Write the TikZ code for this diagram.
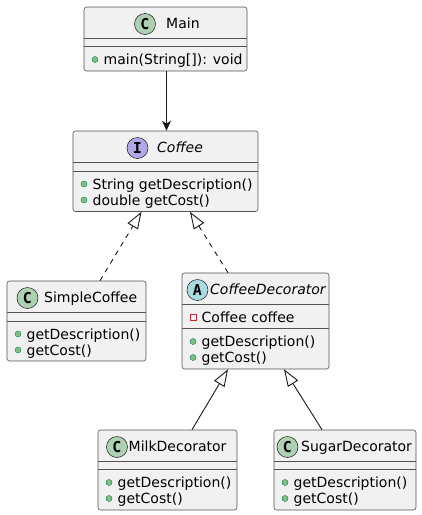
\documentclass[tikz,border=0pt]{standalone}
\usepackage{fontspec}
\setmainfont{DejaVu Sans}
\newfontfamily\iconfont{DejaVu Sans Mono}
\usetikzlibrary{arrows.meta,positioning}
\definecolor{boxfill}{HTML}{F1F1F1}
\definecolor{boxline}{HTML}{181818}
\definecolor{classicon}{HTML}{ADD1B2}
\definecolor{ifaceicon}{HTML}{B4A7E5}
\definecolor{abstricon}{HTML}{A9DCDF}
\definecolor{pubfill}{HTML}{84BE84}
\definecolor{publine}{HTML}{038048}
\definecolor{privline}{HTML}{C82930}

\begin{document}
\begin{tikzpicture}[x=1pt,y=-1pt,font=\fontsize{14}{16}\selectfont,
  umlbox/.style={draw=boxline!75,line width=0.6pt,fill=boxfill,rounded corners=2.5pt},
  sepline/.style={draw=boxline!75,line width=0.6pt},
  icon/.style={circle,draw=boxline,line width=0.5pt,minimum size=21pt,
    font=\iconfont\bfseries\fontsize{15}{15}\selectfont},
  pub/.style={circle,draw=publine,line width=0.4pt,fill=pubfill,minimum size=6pt},
  priv/.style={rectangle,draw=privline,line width=0.7pt,minimum size=6pt},
  member/.style={anchor=base west},
  uses/.style={draw=boxline,line width=0.9pt,-{Stealth[length=10pt,width=9pt,inset=3pt]}},
  realize/.style={draw=boxline,line width=0.9pt,dash pattern=on 5pt off 5pt,
    -{Triangle[length=17pt,width=12pt,fill=white,line width=0.9pt]}},
  extend/.style={draw=boxline,line width=0.9pt,
    -{Triangle[length=17pt,width=12pt,fill=white,line width=0.9pt]}}]
\tikzstyle{every node}+=[inner sep=0pt]
\useasboundingbox (0,0) rectangle (422,515);

\node [umlbox,minimum width=163pt,minimum height=64pt] (main) at (165.5,39) {};
\draw [sepline] ([yshift=-32pt]main.north west) -- ([yshift=-32pt]main.north east);
\draw [sepline] ([yshift=-40pt]main.north west) -- ([yshift=-40pt]main.north east);
\node [icon,fill=classicon] (mainicon) at (145,24) {C};
\node [member] (mainname) at (166,28.5) {Main};
\node [pub] (mainpub1) at (95,59.5) {};
\node [member] (mainm1) at (103.5,64.5) {main(String[]): void};

\node [umlbox,minimum width=185pt,minimum height=80.5pt] (coffee) at (165.5,171.25) {};
\draw [sepline] ([yshift=-32pt]coffee.north west) -- ([yshift=-32pt]coffee.north east);
\draw [sepline] ([yshift=-40.5pt]coffee.north west) -- ([yshift=-40.5pt]coffee.north east);
\node [icon,fill=ifaceicon] (coffeeicon) at (137.5,148) {I};
\node [member] (coffeename) at (157,152.5) {\itshape Coffee};
\node [pub] (coffeepub1) at (84,184) {};
\node [member] (coffeem1) at (92.5,189) {String getDescription()};
\node [pub] (coffeepub2) at (84,200) {};
\node [member] (coffeem2) at (92.5,205) {double getCost()};

\node [umlbox,minimum width=139pt,minimum height=80pt] (simple) at (76.5,321) {};
\draw [sepline] ([yshift=-32pt]simple.north west) -- ([yshift=-32pt]simple.north east);
\draw [sepline] ([yshift=-40.5pt]simple.north west) -- ([yshift=-40.5pt]simple.north east);
\node [icon,fill=classicon] (simpleicon) at (27.5,298) {C};
\node [member] (simplename) at (44,302.5) {SimpleCoffee};
\node [pub] (simplepub1) at (18,334) {};
\node [member] (simplem1) at (26.5,339) {getDescription()};
\node [pub] (simplepub2) at (18,350) {};
\node [member] (simplem2) at (26.5,355) {getCost()};

\node [umlbox,minimum width=147pt,minimum height=96pt] (deco) at (255.5,321) {};
\draw [sepline] ([yshift=-32pt]deco.north west) -- ([yshift=-32pt]deco.north east);
\draw [sepline] ([yshift=-56pt]deco.north west) -- ([yshift=-56pt]deco.north east);
\node [icon,fill=abstricon] (decoicon) at (197.5,290) {A};
\node [member] (deconame) at (210,294.5) {\itshape CoffeeDecorator};
\node [priv] (decopriv1) at (193,317.5) {};
\node [member] (decof1) at (201.5,322.5) {Coffee coffee};
\node [pub] (decopub1) at (193,341.5) {};
\node [member] (decom1) at (201.5,346.5) {getDescription()};
\node [pub] (decopub2) at (193,357.5) {};
\node [member] (decom2) at (201.5,362.5) {getCost()};

\node [umlbox,minimum width=139pt,minimum height=80pt] (milk) at (167.5,470) {};
\draw [sepline] ([yshift=-32pt]milk.north west) -- ([yshift=-32pt]milk.north east);
\draw [sepline] ([yshift=-40pt]milk.north west) -- ([yshift=-40pt]milk.north east);
\node [icon,fill=classicon] (milkicon) at (117,447) {C};
\node [member] (milkname) at (128.5,451.5) {MilkDecorator};
\node [pub] (milkpub1) at (109,482.5) {};
\node [member] (milkm1) at (117.5,487.5) {getDescription()};
\node [pub] (milkpub2) at (109,498.5) {};
\node [member] (milkm2) at (117.5,503.5) {getCost()};

\node [umlbox,minimum width=142pt,minimum height=80pt] (sugar) at (345,470) {};
\draw [sepline] ([yshift=-32pt]sugar.north west) -- ([yshift=-32pt]sugar.north east);
\draw [sepline] ([yshift=-40pt]sugar.north west) -- ([yshift=-40pt]sugar.north east);
\node [icon,fill=classicon] (sugaricon) at (287.5,447) {C};
\node [member] (sugarname) at (301,451.5) {SugarDecorator};
\node [pub] (sugarpub1) at (285,482.5) {};
\node [member] (sugarm1) at (293.5,487.5) {getDescription()};
\node [pub] (sugarpub2) at (285,498.5) {};
\node [member] (sugarm2) at (293.5,503.5) {getCost()};

\draw [uses] ([xshift=1pt]main.south) -- ([xshift=1pt]coffee.north);
\draw [realize] ([xshift=23.5pt]simple.north) -- ([xshift=-24pt]coffee.south);
\draw [realize] ([xshift=-27.5pt]deco.north) -- ([xshift=24.5pt]coffee.south);
\draw [extend] ([xshift=24.5pt]milk.north) -- ([xshift=-27.5pt]deco.south);
\draw [extend] ([xshift=-23pt]sugar.north) -- ([xshift=28.5pt]deco.south);

\end{tikzpicture}
\end{document}
